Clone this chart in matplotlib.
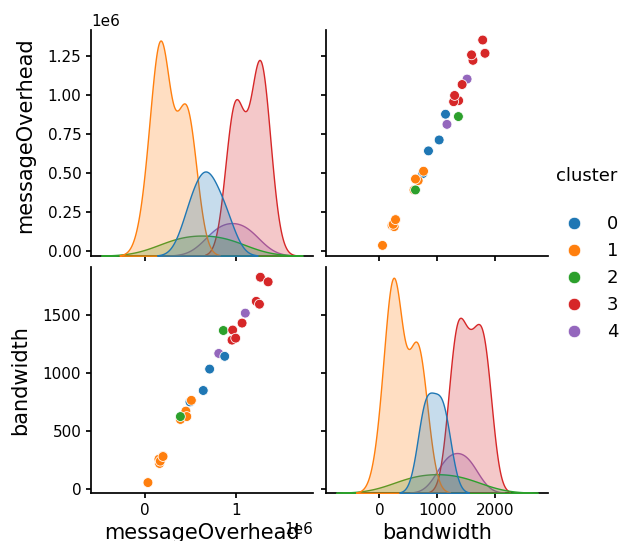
import numpy as np
import pandas as pd
import seaborn as sns
import matplotlib
matplotlib.use("Agg")
import matplotlib.pyplot as plt

# points, grouped by cluster (some overlap exactly)
cluster = [4, 4,
           0, 0, 0, 0,
           1, 1, 1, 1, 1, 1, 1, 1, 1, 1,
           2, 2,
           3, 3, 3, 3, 3, 3, 3, 3, 3]
messageOverhead = [810000, 1100000,
                   495000, 640000, 710000, 875000,
                   35000, 162000, 200000, 155000, 170000, 200000,
                   390000, 450000, 460000, 510000,
                   390000, 860000,
                   962000, 955000, 995000, 1065000, 1220000, 1255000,
                   1265000, 1265000, 1350000]
bandwidth = [1170, 1518,
             752, 850, 1035, 1145,
             55, 220, 285, 257, 240, 280,
             600, 672, 625, 765,
             625, 1368,
             1372, 1285, 1302, 1432, 1620, 1595,
             1828, 1828, 1788]

df = pd.DataFrame({"messageOverhead": messageOverhead,
                   "bandwidth": bandwidth,
                   "cluster": cluster})

plt.rcParams.update({
    "axes.labelsize": 15,
    "xtick.labelsize": 11,
    "ytick.labelsize": 11,
    "axes.linewidth": 1.25,
    "xtick.major.width": 1.25,
    "ytick.major.width": 1.25,
})

g = sns.pairplot(df, hue="cluster", palette="tab10", plot_kws={"s": 50})
g.figure.set_size_inches(6.19, 5.41)
g.figure.subplots_adjust(left=0.147, right=0.885, bottom=0.089, top=0.945,
                         wspace=0.06, hspace=0.05)

# y labels sit a bit further out than the default
for ax in g.axes[:, 0]:
    ax.yaxis.labelpad = 9
g.axes[0, 0].yaxis.label.set_y(0.535)

sns.move_legend(g, "center left", bbox_to_anchor=(0.872, 0.53),
                fontsize=13, title_fontsize=13, frameon=False)
g._legend.set_title("cluster\n")
for h in g._legend.legend_handles:
    h.set_markersize(9)

g.figure.savefig("out.png", dpi=100)
